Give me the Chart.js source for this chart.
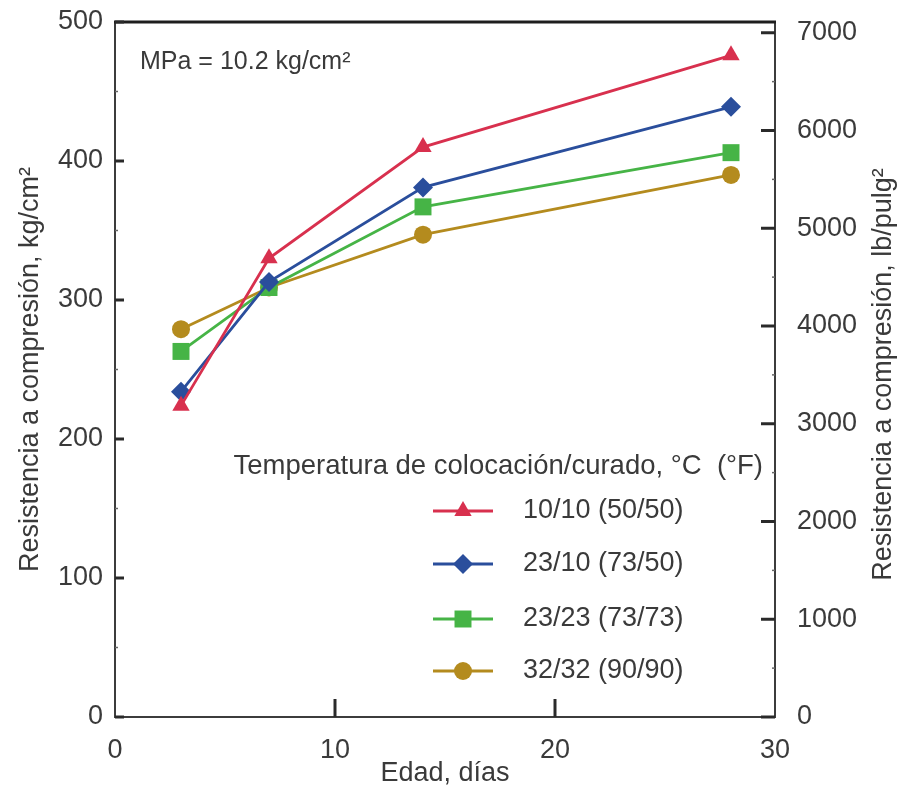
<!DOCTYPE html>
<html>
<head>
<meta charset="utf-8">
<script src="https://cdn.jsdelivr.net/npm/chart.js@4/dist/chart.umd.min.js"></script>
<style>
  html, body { margin: 0; padding: 0; background: #fff; }
  #wrap { width: 904px; height: 792px; }
</style>
</head>
<body>
<div id="wrap"><canvas id="chart" width="904" height="792"></canvas></div>
<script>
// Edad (días) y resistencia (kg/cm2) para cada temperatura de colocación/curado
const days = [3, 7, 14, 28];
const s1010 = [224, 330, 410, 476];
const s2310 = [234, 313, 381, 439];
const s2323 = [263, 309, 367, 406];
const s3232 = [279, 309, 347, 390];

const seriesLabels = ['10/10 (50/50)', '23/10 (73/50)', '23/23 (73/73)', '32/32 (90/90)'];
const xTicks = [0, 10, 20, 30];
const kgTicks = [0, 100, 200, 300, 400, 500];
const psiTicks = [0, 1000, 2000, 3000, 4000, 5000, 6000, 7000];
const KG_TO_PSI = 14.22;

const colors = ['#d8304e', '#2a4e9c', '#46b446', '#b48b1e'];
const styles = ['triangle', 'rectRot', 'rect', 'circle'];
const radii = [10, 10, 12, 9];
const allSeries = [s1010, s2310, s2323, s3232];

const FONT = 'Liberation Sans, Arial, Helvetica, sans-serif';
const TEXT = '#3a3a3a';

const datasets = allSeries.map((vals, i) => ({
    label: seriesLabels[i],
    data: days.map((d, j) => ({ x: d, y: vals[j] })),
    borderColor: colors[i],
    backgroundColor: colors[i],
    borderWidth: 2.8,
    pointStyle: styles[i],
    pointRadius: radii[i],
    pointHoverRadius: radii[i],
    pointBorderWidth: 0,
    tension: 0,
    clip: false
}));

// frame, inward ticks, right title, note and legend
const decor = {
    id: 'decor',
    afterDraw(chart) {
        const ctx = chart.ctx;
        const a = chart.chartArea;
        const sx = chart.scales.x, sy = chart.scales.y, sy1 = chart.scales.y1;
        ctx.save();

        // frame
        ctx.strokeStyle = '#3c3c3c';
        ctx.lineWidth = 2;
        ctx.beginPath();
        ctx.moveTo(a.left, a.top);
        ctx.lineTo(a.left, a.bottom);
        ctx.lineTo(a.right, a.bottom);
        ctx.lineTo(a.right, a.top);
        ctx.stroke();
        ctx.strokeStyle = '#1e1e1e';
        ctx.lineWidth = 3;
        ctx.beginPath();
        ctx.moveTo(a.left - 1, a.top);
        ctx.lineTo(a.right + 1, a.top);
        ctx.stroke();

        // inward ticks
        ctx.strokeStyle = '#2a2a2a';
        ctx.lineWidth = 3;
        kgTicks.forEach(v => {
            const y = sy.getPixelForValue(v);
            ctx.beginPath(); ctx.moveTo(a.left, y); ctx.lineTo(a.left + 9, y); ctx.stroke();
        });
        psiTicks.forEach(v => {
            const y = sy1.getPixelForValue(v);
            ctx.beginPath(); ctx.moveTo(a.right, y); ctx.lineTo(a.right - 14, y); ctx.stroke();
        });
        xTicks.slice(1, -1).forEach(v => {
            const x = sx.getPixelForValue(v);
            ctx.beginPath(); ctx.moveTo(x, a.bottom); ctx.lineTo(x, a.bottom - 18); ctx.stroke();
        });
        ctx.lineWidth = 1.5;
        ctx.strokeStyle = '#666';
        kgTicks.slice(0, -1).forEach(v => {
            const y = sy.getPixelForValue(v + 50);
            ctx.beginPath(); ctx.moveTo(a.left, y); ctx.lineTo(a.left + 3, y); ctx.stroke();
        });
        psiTicks.forEach(v => {
            const y = sy1.getPixelForValue(v + 500);
            if (y < a.top) return;
            ctx.beginPath(); ctx.moveTo(a.right, y); ctx.lineTo(a.right - 3, y); ctx.stroke();
        });

        // right axis title, read bottom to top like the left one
        ctx.fillStyle = TEXT;
        ctx.textBaseline = 'middle';
        ctx.textAlign = 'center';
        ctx.font = '27px ' + FONT;
        ctx.save();
        ctx.translate(884, (a.top + a.bottom) / 2 + 5);
        ctx.rotate(-Math.PI / 2);
        ctx.fillText('Resistencia a compresión, lb/pulg\u00B2', 0, 0);
        ctx.restore();

        // conversion note
        ctx.textAlign = 'left';
        ctx.font = '25px ' + FONT;
        ctx.fillText('MPa = 10.2 kg/cm\u00B2', 140, 62);

        // legend
        ctx.font = '27.5px ' + FONT;
        ctx.textAlign = 'right';
        ctx.fillText('Temperatura de colocación/curado, °C  (°F)', 763, 466);
        ctx.font = '27px ' + FONT;
        const rowsY = [511, 564, 619, 671];
        ctx.textAlign = 'left';
        seriesLabels.forEach((lab, i) => {
            const y = rowsY[i];
            ctx.strokeStyle = colors[i];
            ctx.lineWidth = 2.8;
            ctx.beginPath(); ctx.moveTo(433, y); ctx.lineTo(493, y); ctx.stroke();
            ctx.fillStyle = colors[i];
            Chart.helpers.drawPoint(ctx, { pointStyle: styles[i], radius: radii[i], rotation: 0, borderWidth: 0 }, 463, y);
            ctx.fillStyle = TEXT;
            ctx.fillText(lab, 523, y);
        });
        ctx.restore();
    }
};

// keep the plot box fixed: no extra room for half tick labels
const fixV = w => s => { s.width = w; s.paddingTop = 0; s.paddingBottom = 0; };

new Chart(document.getElementById('chart'), {
    type: 'line',
    data: { datasets },
    options: {
        responsive: false,
        animation: false,
        layout: { padding: { top: 22 } },
        plugins: { legend: { display: false }, tooltip: { enabled: false } },
        scales: {
            x: {
                type: 'linear',
                min: 0, max: 30,
                afterBuildTicks: s => { s.ticks = xTicks.map(v => ({ value: v })); },
                afterFit: s => { s.height = 75; s.paddingLeft = 0; s.paddingRight = 0; },
                grid: { display: false },
                border: { display: false },
                ticks: { color: TEXT, font: { family: FONT, size: 27 }, padding: 9, maxRotation: 0 },
                title: { display: true, text: 'Edad, días', color: TEXT, font: { family: FONT, size: 27 }, padding: { top: 0, bottom: 2 } }
            },
            y: {
                position: 'left',
                min: 0, max: 500,
                afterBuildTicks: s => { s.ticks = kgTicks.map(v => ({ value: v })); },
                afterFit: fixV(115),
                grid: { display: false },
                border: { display: false },
                ticks: { color: TEXT, font: { family: FONT, size: 27 }, padding: 4 },
                title: { display: true, text: 'Resistencia a compresión, kg/cm\u00B2', color: TEXT, font: { family: FONT, size: 27 }, padding: { top: 14, bottom: 0 } }
            },
            y1: {
                position: 'right',
                min: 0, max: 500 * KG_TO_PSI,
                afterBuildTicks: s => { s.ticks = psiTicks.map(v => ({ value: v })); },
                afterFit: fixV(129),
                grid: { display: false },
                border: { display: false },
                ticks: { color: TEXT, font: { family: FONT, size: 27 }, padding: 14, callback: v => String(v) },
                title: { display: false }
            }
        }
    },
    plugins: [decor]
});
</script>
</body>
</html>
